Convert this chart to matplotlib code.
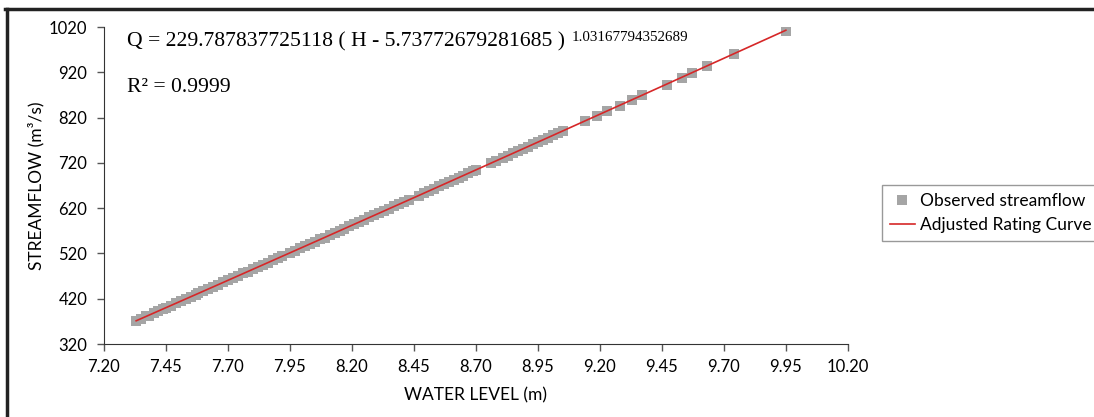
import matplotlib.pyplot as plt
from matplotlib.lines import Line2D
import numpy as np

# observed water level (m) and streamflow (m3/s)
nivel = [7.33, 7.35, 7.37, 7.38, 7.40, 7.42, 7.44, 7.45, 7.47, 7.49, 7.51, 7.53,
         7.55, 7.57, 7.58, 7.60, 7.62, 7.64, 7.66, 7.68, 7.70, 7.72, 7.74, 7.76,
         7.78, 7.80, 7.82, 7.84, 7.86, 7.88, 7.90, 7.92, 7.95, 7.97, 7.99, 8.01,
         8.03, 8.05, 8.07, 8.09, 8.11, 8.13, 8.15, 8.17, 8.19, 8.21, 8.23, 8.25,
         8.27, 8.29, 8.31, 8.33, 8.35, 8.37, 8.39, 8.41, 8.43, 8.47, 8.49, 8.51,
         8.53, 8.55, 8.57, 8.59, 8.61, 8.63, 8.65, 8.67, 8.69, 8.70, 8.76, 8.78,
         8.81, 8.83, 8.85, 8.87, 8.89, 8.91, 8.93, 8.95, 8.97, 8.99, 9.01, 9.03,
         9.05, 9.14, 9.19, 9.23, 9.28, 9.33, 9.37, 9.47, 9.53, 9.57, 9.63, 9.74,
         9.95]
vazao = [371, 376, 381, 383, 388, 393, 398, 400, 405, 410, 415, 420,
         424, 429, 432, 437, 441, 446, 451, 456, 461, 466, 471, 476,
         480, 485, 490, 495, 500, 505, 509, 514, 521, 526, 531, 536,
         541, 546, 551, 555, 560, 565, 570, 575, 580, 585, 590, 595,
         600, 604, 609, 614, 619, 624, 629, 634, 638, 648, 653, 658,
         663, 668, 673, 678, 683, 687, 692, 697, 702, 704, 719, 724,
         731, 736, 741, 746, 751, 756, 761, 766, 771, 776, 781, 786,
         790, 812, 824, 834, 846, 859, 869, 893, 908, 918, 933, 960,
         1012]

# rating curve coefficients
a = 229.787837725118
h0 = 5.73772679281685
b = 1.03167794352689
r2 = 0.9999

xticks = np.arange(7.20, 10.21, 0.25)
yticks = np.arange(320, 1021, 100)

fig = plt.figure(figsize=(10.94, 4.17), dpi=100)
ax = fig.add_axes([0.095, 0.175, 0.68, 0.76])

ax.plot(nivel, vazao, 's', color='#A5A5A5', markersize=7, markeredgewidth=0,
        label='Observed streamflow', zorder=2)
hh = np.linspace(min(nivel), max(nivel), 200)
ax.plot(hh, a * (hh - h0) ** b, color='#D62728', linewidth=1.2,
        label='Adjusted Rating Curve', zorder=3)

ax.set_xlim(7.20, 10.20)
ax.set_ylim(320, 1020)
ax.set_xticks(xticks)
ax.set_xticklabels(['%.2f' % t for t in xticks])
ax.set_yticks(yticks)
ax.tick_params(labelsize=12, direction='out', length=5, color='#555555', width=1)
ax.tick_params(axis='y', pad=7)
ax.tick_params(axis='x', pad=6)
for lab in ax.get_xticklabels() + ax.get_yticklabels():
    lab.set_family('Lato')

ax.spines['top'].set_visible(False)
ax.spines['right'].set_visible(False)
ax.spines['left'].set_color('#333333')
ax.spines['bottom'].set_color('#333333')

ax.set_xlabel('WATER LEVEL (m)', fontsize=12.5, family='Lato', labelpad=9)
ax.set_ylabel('STREAMFLOW (m\u00b3/s)', fontsize=12.5, family='Lato', labelpad=3)

# equation text, exponent placed right after the main part
eq = ax.text(0.031, 0.955, 'Q = %s ( H - %s )' % (repr(a), repr(h0)),
             transform=ax.transAxes, fontsize=15.6, family='Liberation Serif',
             va='center')
ax.annotate(repr(b), xy=(1, 1), xycoords=eq, xytext=(5, 0.5),
            textcoords='offset points', fontsize=10.8,
            family='Liberation Serif', va='top', ha='left')
ax.text(0.031, 0.81, 'R\u00b2 = %.4f' % r2, transform=ax.transAxes, fontsize=15.6,
        family='Liberation Serif', va='center')

leg = ax.legend(loc='upper left', bbox_to_anchor=(1.046, 0.502), frameon=True,
                fancybox=False, prop={'family': 'Lato', 'size': 12.5},
                handlelength=1.45, handletextpad=0.3, borderpad=0.45,
                labelspacing=0.5, borderaxespad=0)
leg.get_frame().set_edgecolor('#808080')
leg.get_frame().set_linewidth(1)

# outer frame
fig.add_artist(Line2D([0.005, 1.0], [0.978, 0.978], color='#222222', linewidth=2.5))
fig.add_artist(Line2D([0.006, 0.006], [0.0, 0.978], color='#222222', linewidth=2.5))

fig.savefig('out.png', dpi=100)
